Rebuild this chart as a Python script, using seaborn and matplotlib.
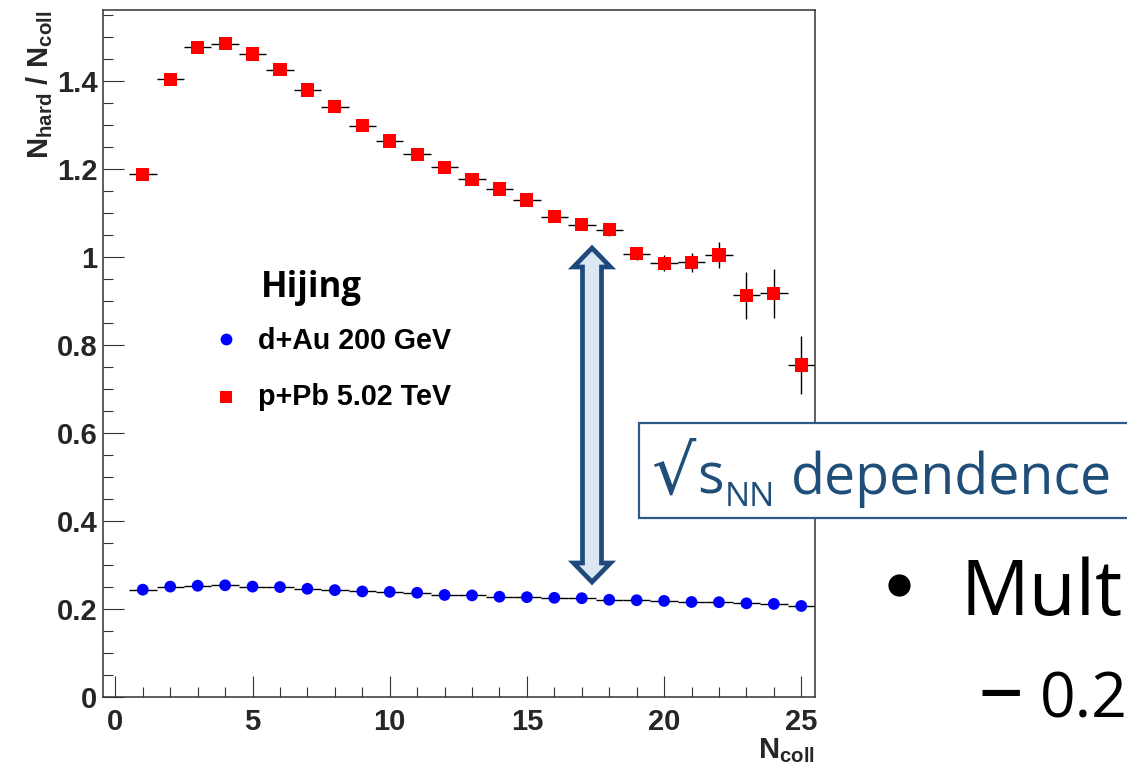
import matplotlib
matplotlib.use("Agg")
import numpy as np
import pandas as pd
import seaborn as sns
import matplotlib.pyplot as plt
from matplotlib.patches import Rectangle, Polygon
from matplotlib.lines import Line2D
from matplotlib.ticker import MultipleLocator

# ---------------- data ----------------
ncoll = list(range(1, 26))
dau_ratio = [0.244, 0.251, 0.253, 0.254, 0.251, 0.250, 0.246, 0.243, 0.240, 0.239,
             0.237, 0.232, 0.231, 0.228, 0.227, 0.2255, 0.2246, 0.221, 0.220, 0.2185,
             0.216, 0.2155, 0.213, 0.2116, 0.207]
dau_err = [0.002] * 25
ppb_ratio = [1.188, 1.404, 1.477, 1.485, 1.462, 1.426, 1.380, 1.342, 1.299, 1.264,
             1.234, 1.204, 1.177, 1.155, 1.130, 1.092, 1.074, 1.062, 1.008, 0.986,
             0.988, 1.005, 0.913, 0.918, 0.755]
ppb_err = [0.004, 0.004, 0.004, 0.005, 0.005, 0.005, 0.006, 0.006, 0.007, 0.007,
           0.008, 0.008, 0.009, 0.010, 0.010, 0.011, 0.012, 0.013, 0.015, 0.018,
           0.022, 0.030, 0.053, 0.056, 0.066]
bin_half_width = [0.5] * 25

series_names = ["d+Au 200 GeV", "p+Pb 5.02 TeV"]
series_colors = {"d+Au 200 GeV": "#0000ff", "p+Pb 5.02 TeV": "#ff0000"}
series_markers = {"d+Au 200 GeV": "o", "p+Pb 5.02 TeV": "s"}

x_ticks = [0, 5, 10, 15, 20, 25]
x_tick_labels = ["0", "5", "10", "15", "20", "25"]
y_ticks = [0, 0.2, 0.4, 0.6, 0.8, 1.0, 1.2, 1.4]
y_tick_labels = ["0", "0.2", "0.4", "0.6", "0.8", "1", "1.2", "1.4"]

# ---------------- style ----------------
sns.set_theme(style="ticks")
plt.rcParams['font.family'] = ['Liberation Sans', 'DejaVu Sans']
plt.rcParams['font.weight'] = 'bold'
plt.rcParams['mathtext.fontset'] = 'custom'
plt.rcParams['mathtext.rm'] = 'Liberation Sans:bold'
plt.rcParams['mathtext.bf'] = 'Liberation Sans:bold'
plt.rcParams['mathtext.it'] = 'Liberation Sans:bold'

W, H = 1127, 768
fig = plt.figure(figsize=(W / 100, H / 100), dpi=100)
fig.patch.set_facecolor("white")


def fx(px):
    return px / W


def fy(py):
    return 1 - py / H


ax = fig.add_axes([fx(103), fy(697), (815 - 103) / W, (697 - 10) / H])
ax.set_facecolor("white")

df = pd.DataFrame({
    "ncoll": ncoll * 2,
    "ratio": dau_ratio + ppb_ratio,
    "err": dau_err + ppb_err,
    "xerr": bin_half_width * 2,
    "system": [series_names[0]] * 25 + [series_names[1]] * 25,
})

for name in series_names:
    sub = df[df["system"] == name]
    ax.errorbar(sub["ncoll"], sub["ratio"], yerr=sub["err"], xerr=sub["xerr"],
                fmt="none", ecolor="black", elinewidth=1.0, capsize=0, zorder=2)

sub_d = df[df["system"] == series_names[0]]
sub_p = df[df["system"] == series_names[1]]
sns.scatterplot(data=sub_d, x="ncoll", y="ratio", color=series_colors[series_names[0]],
                marker=series_markers[series_names[0]], s=72, edgecolor="none", linewidth=0,
                ax=ax, zorder=3, legend=False)
sns.scatterplot(data=sub_p, x="ncoll", y="ratio", color=series_colors[series_names[1]],
                marker=series_markers[series_names[1]], s=90, edgecolor="none", linewidth=0,
                ax=ax, zorder=3, legend=False)

ax.set_xlim(-0.45, 25.5)
ax.set_ylim(0, 1.562)
ax.set_xticks(x_ticks)
ax.set_xticklabels(x_tick_labels)
ax.set_yticks(y_ticks)
ax.set_yticklabels(y_tick_labels)
ax.xaxis.set_minor_locator(MultipleLocator(1))
ax.yaxis.set_minor_locator(MultipleLocator(0.05))
ax.tick_params(axis="both", which="major", direction="in", length=15, width=0.8,
               color="#333333", labelsize=21, top=False, right=False)
ax.tick_params(axis="both", which="minor", direction="in", length=7.5, width=0.8,
               color="#333333", top=False, right=False)
ax.tick_params(axis="y", which="major", pad=4)
ax.tick_params(axis="x", which="major", pad=8)
for lab in ax.get_xticklabels() + ax.get_yticklabels():
    lab.set_fontweight("bold")
for sp in ax.spines.values():
    sp.set_visible(True)
    sp.set_color("#333333")
    sp.set_linewidth(1.1)

ax.set_ylabel(r"$\mathbf{N_{hard}\ /\ N_{coll}}$", fontsize=21, loc="top")
ax.yaxis.set_label_coords((55 - 103) / 712, 1.0)
ax.set_xlabel(r"$\mathbf{N_{coll}}$", fontsize=21, loc="right")
ax.xaxis.set_label_coords(1.0, -(736 - 697) / 687)

# ---------------- legend ----------------
fig.text(fx(261), fy(297), "Hijing", fontsize=25, fontweight="bold",
         family=["Open Sans", "DejaVu Sans"], ha="left", va="baseline", color="black")
fig.add_artist(Line2D([fx(226)], [fy(339)], marker="o", markersize=8.5, color="#0000ff",
                      markeredgewidth=0, linestyle="none", transform=fig.transFigure))
fig.add_artist(Line2D([fx(226)], [fy(397)], marker="s", markersize=9.3, color="#ff0000",
                      markeredgewidth=0, linestyle="none", transform=fig.transFigure))
fig.text(fx(258), fy(349), series_names[0], fontsize=20.6, fontweight="bold",
         ha="left", va="baseline", color="black")
fig.text(fx(258), fy(405), series_names[1], fontsize=20.6, fontweight="bold",
         ha="left", va="baseline", color="black")

# ---------------- double arrow ----------------
cx, top, bot = 592, 248, 582
hw_head, hw_shaft, hl = 18.5, 9.5, 19
pts_px = [(cx, top), (cx + hw_head, top + hl), (cx + hw_shaft, top + hl),
          (cx + hw_shaft, bot - hl), (cx + hw_head, bot - hl), (cx, bot),
          (cx - hw_head, bot - hl), (cx - hw_shaft, bot - hl),
          (cx - hw_shaft, top + hl), (cx - hw_head, top + hl)]
arrow = Polygon([(fx(x), fy(y)) for x, y in pts_px], closed=True,
                transform=fig.transFigure, facecolor="#dce6f2", edgecolor="#1f497d",
                linewidth=3.4, joinstyle="miter", zorder=5)
fig.add_artist(arrow)

# ---------------- sqrt(sNN) box ----------------
box = Rectangle((fx(639), fy(518)), (1140 - 639) / W, (518 - 423) / H,
                transform=fig.transFigure, facecolor="white", edgecolor="#2e5a8a",
                linewidth=1.6, zorder=6)
fig.add_artist(box)
txt_color = "#1f4e79"
renderer = fig.canvas.get_renderer()
t_sqrt = fig.text(fx(652), fy(494), "√", fontsize=50, family=["DejaVu Sans"],
                  fontweight="normal", color=txt_color, ha="left", va="baseline", zorder=7)
end_px = t_sqrt.get_window_extent(renderer).x1 + 1
t_s = fig.text(max(end_px, 697) / W, fy(494), "s", fontsize=40,
               family=["Open Sans", "DejaVu Sans"], fontweight="normal", color=txt_color,
               ha="left", va="baseline", zorder=7)
end_px = t_s.get_window_extent(renderer).x1 + 1
t_nn = fig.text(max(end_px, 723) / W, fy(506), "NN", fontsize=24,
                family=["Open Sans", "DejaVu Sans"], fontweight="normal", color=txt_color,
                ha="left", va="baseline", zorder=7)
end_px = t_nn.get_window_extent(renderer).x1 + 1
fig.text(max(end_px, 791) / W, fy(494), "dependence", fontsize=40,
         family=["Open Sans", "DejaVu Sans"], fontweight="normal", color=txt_color,
         ha="left", va="baseline", zorder=7)

# ---------------- slide text ----------------
fig.add_artist(Line2D([fx(899)], [fy(585)], marker="o", markersize=16, color="black",
                      markeredgewidth=0, linestyle="none", transform=fig.transFigure))
fig.text(fx(960), fy(615), "Mult", fontsize=55, family=["Open Sans", "DejaVu Sans"],
         fontweight="normal", color="black", ha="left", va="baseline")
fig.text(fx(978), fy(717), "–", fontsize=64, family=["Open Sans", "DejaVu Sans"],
         fontweight="normal", color="black", ha="left", va="baseline")
fig.text(fx(1040), fy(717), "0.2", fontsize=45, family=["Open Sans", "DejaVu Sans"],
         fontweight="normal", color="black", ha="left", va="baseline")

fig.savefig("out.png", dpi=100, facecolor="white")
